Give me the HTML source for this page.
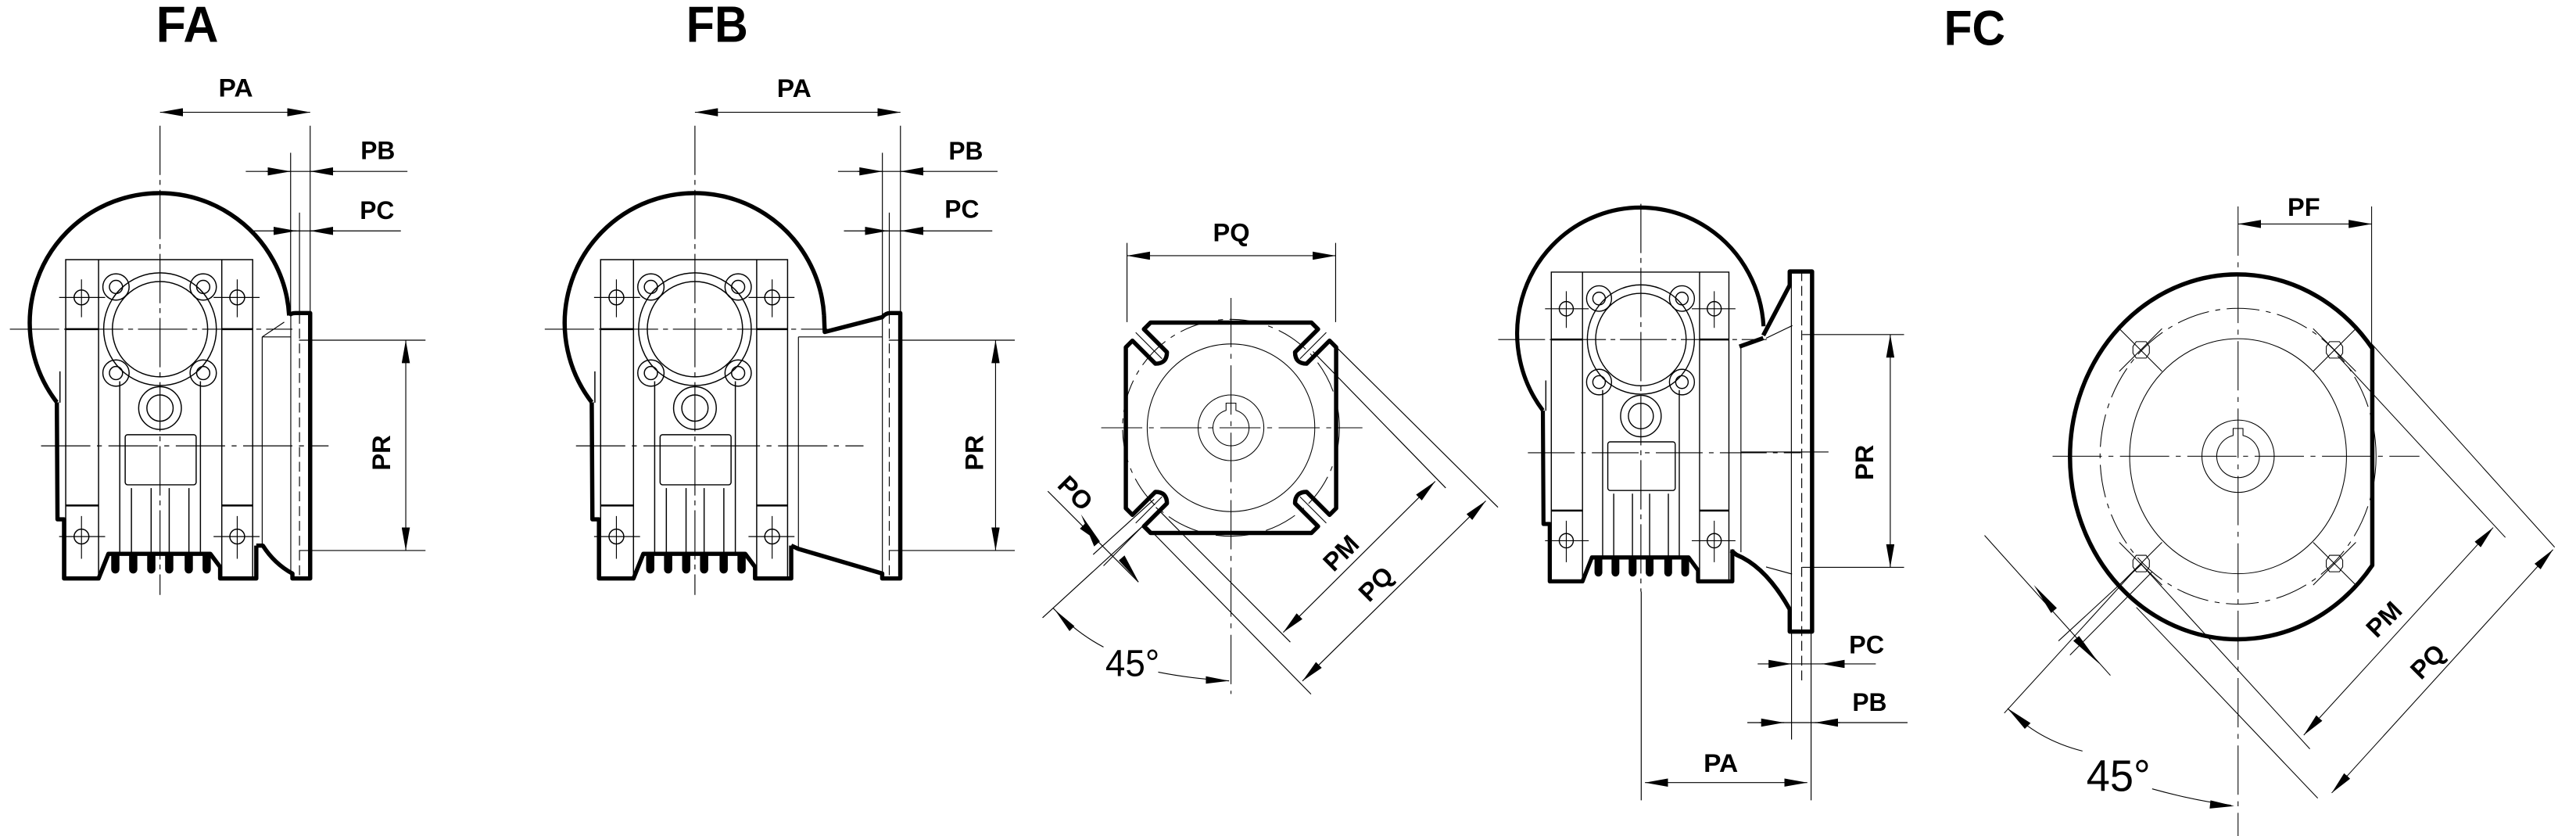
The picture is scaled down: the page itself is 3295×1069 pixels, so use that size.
<!DOCTYPE html>
<html><head><meta charset="utf-8"><style>
html,body{margin:0;padding:0;background:#fff}
svg{display:block}
text{font-family:"Liberation Sans",Arial,sans-serif;fill:#000}
.b{font-weight:bold;font-size:15.5px}
</style></head><body>
<svg width="3295" height="1069" viewBox="0 0 1568 508.7" preserveAspectRatio="none" xmlns="http://www.w3.org/2000/svg">
<defs>
<marker id="a" viewBox="0 0 14 5" refX="14" refY="2.5" markerWidth="14" markerHeight="5" markerUnits="userSpaceOnUse" orient="auto-start-reverse"><path d="M0,0 L14,2.5 L0,5 Z" fill="#000"/></marker>
<g id="body" fill="none" stroke="#000">
  <path d="M34.6,244.8 A79 79 0 1 1 176,192" stroke-width="2.6"/>
  <path d="M34.6,244.8 L35,316 L39,316 L39,352 L60,352 L66,337 L128,337 L134,345 L134,352 L156,352 L156,332" stroke-width="2.6" stroke-linejoin="round"/>
  <g fill="#000" stroke="none">
    <rect x="67.7" y="336" width="5" height="13" rx="2.5"/><rect x="78.6" y="336" width="5" height="13" rx="2.5"/>
    <rect x="89.6" y="336" width="5" height="13" rx="2.5"/><rect x="100.5" y="336" width="5" height="13" rx="2.5"/>
    <rect x="112.4" y="336" width="5" height="13" rx="2.5"/><rect x="123.3" y="336" width="5" height="13" rx="2.5"/>
  </g>
  <g stroke-width="0.7">
    <path d="M40,352 L40,158 L153.8,158 L153.8,352"/>
    <path d="M60,158 L60,352 M135,158 L135,352"/>
    <path d="M40,200.3 L60,200.3 M135,200.3 L153.8,200.3 M40,307.6 L60,307.6 M135,307.6 L153.8,307.6" stroke-width="1.2"/>
    <path d="M36.5,226 L36.5,245 M72.9,232 L72.9,337 M122,232 L122,337"/>
    <path d="M80,297 L80,337 M92,297 L92,337 M103,297 L103,337 M115,297 L115,337"/>
    <circle cx="97.4" cy="200.3" r="29"/>
    <circle cx="97.4" cy="200.3" r="34.3"/>
    <circle cx="70.6" cy="174.6" r="8"/><circle cx="123.7" cy="174.6" r="8"/>
    <circle cx="70.6" cy="227" r="8"/><circle cx="123.7" cy="227" r="8"/>
    <circle cx="70.6" cy="174.6" r="4"/><circle cx="123.7" cy="174.6" r="4"/>
    <circle cx="70.6" cy="227" r="4"/><circle cx="123.7" cy="227" r="4"/>
    <circle cx="97.4" cy="248.3" r="13"/><circle cx="97.4" cy="248.3" r="8"/>
    <rect x="76.2" y="264.5" width="43.2" height="30.5" rx="1.5"/>
    <circle cx="49.6" cy="181" r="4.5"/><circle cx="144.4" cy="181" r="4.5"/>
    <circle cx="49.6" cy="326.5" r="4.5"/><circle cx="144.4" cy="326.5" r="4.5"/>
  </g>
  <g stroke-width="0.55">
    <path d="M36,181 L64,181 M49.6,170 L49.6,193 M130,181 L158,181 M144.4,170 L144.4,193"/>
    <path d="M36,326.5 L64,326.5 M49.6,314 L49.6,340 M130,326.5 L158,326.5 M144.4,314 L144.4,340"/>
    <path d="M6,200.3 L178,200.3" stroke-dasharray="30 3 3 3"/>
    <path d="M25,271.3 L200,271.3" stroke-dasharray="30 4 3 4"/>
  </g>
</g>
</defs>

<!-- titles -->
<text x="95" y="25.4" font-size="31" font-weight="bold" textLength="38" lengthAdjust="spacingAndGlyphs">FA</text>
<text x="417.7" y="25.4" font-size="31" font-weight="bold" textLength="37.6" lengthAdjust="spacingAndGlyphs">FB</text>
<text x="1183.3" y="27.3" font-size="30" font-weight="bold" textLength="37.3" lengthAdjust="spacingAndGlyphs">FC</text>

<!-- ===== FA ===== -->
<use href="#body"/>
<g fill="none" stroke="#000">
  <path d="M176,192 Q177,190.5 180,190.5 L188.8,190.5 L188.8,352 L178,352 L178,349 Q167,343 160,332 L156,332" stroke-width="2.6" stroke-linejoin="round"/>
  <g stroke-width="0.55">
    <path d="M97.4,76.5 L97.4,362" stroke-dasharray="30 3 3 3"/>
    <path d="M188.8,76.5 L188.8,191 M176.9,93 L176.9,191 M177,191 L177,350 M182.3,129.4 L182.3,191"/>
    <path d="M182.3,191 L182.3,352" stroke-dasharray="6 3"/>
    <path d="M159.6,205 L159.6,331 M159.6,205 L177,205 M159.6,205 L173,196"/>
    <path d="M182,207 L259,207 M182,335 L259,335"/>
    <line x1="97.4" y1="68.3" x2="188.8" y2="68.3" marker-start="url(#a)" marker-end="url(#a)"/>
    <line x1="247" y1="207" x2="247" y2="335" marker-start="url(#a)" marker-end="url(#a)"/>
    <path d="M149.6,104.3 L248,104.3 M154.3,140.5 L244,140.5"/>
    <line x1="162" y1="104.3" x2="176.9" y2="104.3" marker-end="url(#a)"/>
    <line x1="204" y1="104.3" x2="188.8" y2="104.3" marker-end="url(#a)"/>
    <line x1="166" y1="140.5" x2="180.5" y2="140.5" marker-end="url(#a)"/>
    <line x1="204" y1="140.5" x2="188.8" y2="140.5" marker-end="url(#a)"/>
  </g>
</g>
<text class="b" x="133" y="58.7" textLength="21" lengthAdjust="spacingAndGlyphs">PA</text>
<text class="b" x="219.5" y="96.8" textLength="21" lengthAdjust="spacingAndGlyphs">PB</text>
<text class="b" x="219" y="133.3" textLength="21" lengthAdjust="spacingAndGlyphs">PC</text>
<text class="b" transform="translate(232,275.5) rotate(-90)" x="0" y="5.5" text-anchor="middle">PR</text>

<!-- ===== FB ===== -->
<use href="#body" transform="translate(325.6,0)"/>
<g fill="none" stroke="#000">
  <path d="M501.6,192 L502,202 L537,193 Q539,190.5 542,190.5 L548,190.5 L548,352 L537,352 L537,349 L486,334 L481.6,332" stroke-width="2.6" stroke-linejoin="round"/>
  <g stroke-width="0.55">
    <path d="M423,76.5 L423,362" stroke-dasharray="30 3 3 3"/>
    <path d="M548.1,76.5 L548.1,191 M537.1,93 L537.1,350 M541.3,129.4 L541.3,191"/>
    <path d="M541.3,191 L541.3,352" stroke-dasharray="6 3"/>
    <path d="M486,205 L537,205 M486,205 L486,333"/>
    <path d="M541,207 L617.7,207 M541,335 L617.7,335"/>
    <line x1="423" y1="68.3" x2="548.1" y2="68.3" marker-start="url(#a)" marker-end="url(#a)"/>
    <line x1="606" y1="207" x2="606" y2="335" marker-start="url(#a)" marker-end="url(#a)"/>
    <path d="M510.1,104.3 L607.2,104.3 M513.7,140.5 L604,140.5"/>
    <line x1="522" y1="104.3" x2="537.1" y2="104.3" marker-end="url(#a)"/>
    <line x1="563" y1="104.3" x2="548.1" y2="104.3" marker-end="url(#a)"/>
    <line x1="526" y1="140.5" x2="540.5" y2="140.5" marker-end="url(#a)"/>
    <line x1="563" y1="140.5" x2="548.1" y2="140.5" marker-end="url(#a)"/>
  </g>
</g>
<text class="b" x="472.9" y="59" textLength="21" lengthAdjust="spacingAndGlyphs">PA</text>
<text class="b" x="577.4" y="97" textLength="21" lengthAdjust="spacingAndGlyphs">PB</text>
<text class="b" x="575" y="132.5" textLength="21" lengthAdjust="spacingAndGlyphs">PC</text>
<text class="b" transform="translate(593,275.5) rotate(-90)" x="0" y="5.5" text-anchor="middle">PR</text>

<!-- ===== Plate (middle) ===== -->
<g transform="translate(749.3,260.3)" fill="none" stroke="#000">
  <path d="M-64,-49 L-60,-53 L-46,-39 Q-39,-39 -39,-46 L-53,-60 L-49,-64 L49,-64 L53,-60 L39,-46 Q39,-39 46,-39 L60,-53 L64,-49 L64,49 L60,53 L46,39 Q39,39 39,46 L53,60 L49,64 L-49,64 L-53,60 L-39,46 Q-39,39 -46,39 L-60,53 L-64,49 Z" stroke-width="2.6" stroke-linejoin="round"/>
  <g stroke-width="0.5">
    <circle r="66" stroke-dasharray="20 4 3 4"/>
    <circle r="51"/>
    <circle r="20"/>
    <path d="M-3,-10.6 L-3,-15 L3,-15 L3,-10.6 A11 11 0 1 1 -3,-10.6 Z"/>
    <path d="M-79,0 L80,0" stroke-dasharray="25 4 3 4"/>
    <path d="M0,-79 L0,162" stroke-dasharray="30 4 3 4"/>
    <path d="M-58,-58 L-42,-42 M58,-58 L42,-42 M-58,58 L-42,42 M58,58 L42,42"/>
  </g>
</g>
<g fill="none" stroke="#000" stroke-width="0.55">
  <path d="M686,147.8 L686,196 M813,147.8 L813,196"/>
  <line x1="686" y1="155.6" x2="813" y2="155.6" marker-start="url(#a)" marker-end="url(#a)"/>
  <path d="M814.1,211.9 L911.8,308.7 M799.2,213.9 L880,296.9"/>
  <path d="M703.6,308.7 L785.4,390.7 M698.3,320.6 L798,422.4"/>
  <line x1="873.6" y1="292.9" x2="781.1" y2="384.8" marker-start="url(#a)" marker-end="url(#a)"/>
  <line x1="904.4" y1="304.8" x2="792.8" y2="414.4" marker-start="url(#a)" marker-end="url(#a)"/>
  <path d="M702.5,303.8 L665.4,337.4 M706.8,308.6 L671.7,344.3"/>
  <path d="M637.8,298.9 L693,354.2"/>
  <line x1="660" y1="320.8" x2="669" y2="329.8" marker-end="url(#a)" stroke-width="0"/>
  <path d="M634.6,375.9 L699.3,316.7"/>
  <path d="M641,370 Q655,385 671.7,393.7 M705,409 Q725,413 748.2,414.3"/>
</g>
<path d="M658,313 L669.5,329.5 L666,332.5 Z M693,354 L681,341 L684.5,338 Z" fill="#000"/>
<path d="M642,371 L654,381 L651,384 Z M748.2,414.3 L734,416 L734,411.5 Z" fill="#000"/>
<text class="b" transform="translate(749.5,146.7)" text-anchor="middle">PQ</text>
<text class="b" transform="translate(654.7,299.9) rotate(45)" x="0" y="5.5" text-anchor="middle">PO</text>
<text class="b" transform="translate(816.1,336.4) rotate(-45)" x="0" y="5.5" text-anchor="middle">PM</text>
<text class="b" transform="translate(837.4,355.2) rotate(-45)" x="0" y="5.5" text-anchor="middle">PQ</text>
<text x="672.8" y="411.4" font-size="23" textLength="33" lengthAdjust="spacingAndGlyphs">45°</text>

<!-- ===== Side view ===== -->
<use href="#body" transform="translate(998.8,206.6) scale(0.95,0.97) translate(-97.4,-200.3)"/>
<g fill="none" stroke="#000">
  <path d="M1073.3,204.1 L1089.4,173.5 L1089.4,165.2 L1103,165.2 L1103,384.3 L1089.4,384.3 L1089.4,370.8 Q1075,345 1057,337.6 L1053.7,335" stroke-width="2.6" stroke-linejoin="round"/>
  <path d="M1058.8,210.9 L1073.3,205.7" stroke-width="2.6"/>
  <g stroke-width="0.55">
    <path d="M998.8,124 L998.8,360" stroke-dasharray="30 3 3 3"/>
    <path d="M999,360 L999,487"/>
    <path d="M1090.4,165 L1090.4,384 M1059.7,211 L1059.7,336 M1075,205.8 L1091,198.1 M1075,345 L1090.8,349.3"/>
    <path d="M1096.7,165 L1096.7,414" stroke-dasharray="6 3"/>
    <path d="M1090.5,384 L1090.5,450 M1102.4,384 L1102.4,487"/>
    <path d="M1097,203.6 L1159,203.6 M1097,345.2 L1159,345.2 M1060,275 L1113,275" />
    <line x1="1150.6" y1="203.6" x2="1150.6" y2="345.2" marker-start="url(#a)" marker-end="url(#a)"/>
    <path d="M1069.9,404 L1141.8,404 M1063.6,439.7 L1161.1,439.7"/>
    <line x1="1078" y1="404" x2="1090.5" y2="404" marker-end="url(#a)"/>
    <line x1="1121" y1="404" x2="1108.8" y2="404" marker-end="url(#a)"/>
    <line x1="1071" y1="439.7" x2="1086" y2="439.7" marker-end="url(#a)"/>
    <line x1="1120" y1="439.7" x2="1104.8" y2="439.7" marker-end="url(#a)"/>
    <line x1="1001.3" y1="476.2" x2="1100.1" y2="476.2" marker-start="url(#a)" marker-end="url(#a)"/>
  </g>
</g>
<text class="b" x="1125.5" y="397.6" textLength="21.4" lengthAdjust="spacingAndGlyphs">PC</text>
<text class="b" x="1127.5" y="432.5" textLength="21" lengthAdjust="spacingAndGlyphs">PB</text>
<text class="b" x="1037" y="469.8" textLength="21" lengthAdjust="spacingAndGlyphs">PA</text>
<text class="b" transform="translate(1134.6,281.4) rotate(-90)" x="0" y="5.5" text-anchor="middle">PR</text>

<!-- ===== FC ===== -->
<g fill="none" stroke="#000">
  <path d="M1444,212 A102 111 0 1 0 1444,344 Z" stroke-width="2.6" stroke-linejoin="round"/>
  <g stroke-width="0.5">
    <ellipse cx="1362.3" cy="277.6" rx="84" ry="90" stroke-dasharray="20 4 3 4"/>
    <ellipse cx="1362.3" cy="277.6" rx="66" ry="71.5"/>
    <circle cx="1362.3" cy="277.6" r="22"/>
    <path d="M1359.3,265 L1359.3,260.7 L1365.3,260.7 L1365.3,265 A13 13 0 1 1 1359.3,265 Z"/>
    <path d="M1362.3,125.6 L1362.3,509" stroke-dasharray="30 4 3 4"/>
    <path d="M1249.4,277.6 L1472.7,277.6" stroke-dasharray="30 4 3 4"/>
    <g>
      <path d="M1300.3,207.9 L1306.3,207.9 L1308.3,210.9 L1308.3,214.9 L1306.3,217.9 L1300.3,217.9 L1298.3,214.9 L1298.3,210.9 Z"/>
      <path d="M1418,207.9 L1424,207.9 L1426,210.9 L1426,214.9 L1424,217.9 L1418,217.9 L1416,214.9 L1416,210.9 Z"/>
      <path d="M1300.3,337.9 L1306.3,337.9 L1308.3,340.9 L1308.3,344.9 L1306.3,347.9 L1300.3,347.9 L1298.3,344.9 L1298.3,340.9 Z"/>
      <path d="M1418,337.9 L1424,337.9 L1426,340.9 L1426,344.9 L1424,347.9 L1418,347.9 L1416,344.9 L1416,340.9 Z"/>
      <path d="M1290,200 L1316,226 M1316,200 L1290,226 M1408,200 L1434,226 M1434,200 L1408,226 M1290,330 L1316,356 M1316,330 L1290,356 M1408,330 L1434,356 M1434,330 L1408,356"/>
    </g>
    <path d="M1443.6,125.6 L1443.6,212"/>
    <line x1="1362.3" y1="136.3" x2="1443.6" y2="136.3" marker-start="url(#a)" marker-end="url(#a)"/>
    <path d="M1422.9,216.5 L1525,327 M1443.6,209.2 L1555,333"/>
    <path d="M1303,343 L1406,455.7 M1300.4,369.6 L1410.8,485.7"/>
    <line x1="1517.6" y1="321" x2="1402.3" y2="447.3" marker-start="url(#a)" marker-end="url(#a)"/>
    <line x1="1554" y1="334.4" x2="1419.3" y2="482.5" marker-start="url(#a)" marker-end="url(#a)"/>
    <path d="M1304,343 L1253,390 M1310,348 L1260,398.6"/>
    <path d="M1208,325.8 L1284.6,411"/>
    <path d="M1220,433.9 L1303,343"/>
    <path d="M1222,431 Q1240,450 1267.6,457 M1310,480 Q1335,487 1358,490"/>
  </g>
</g>
<path d="M1238,356 L1252,370 L1248.5,373 Z M1278,404 L1262,390 L1265.5,387 Z" fill="#000"/>
<path d="M1222,431 L1236,440 L1232.5,443.5 Z M1360,490.5 L1345,492 L1345.5,487 Z" fill="#000"/>
<text class="b" x="1402.3" y="131.4" text-anchor="middle">PF</text>
<text class="b" transform="translate(1451,376.7) rotate(-45)" x="0" y="5.5" text-anchor="middle">PM</text>
<text class="b" transform="translate(1477.6,402.4) rotate(-45)" x="0" y="5.5" text-anchor="middle">PQ</text>
<text x="1270" y="481.4" font-size="27" textLength="39" lengthAdjust="spacingAndGlyphs">45°</text>
</svg>
</body></html>
